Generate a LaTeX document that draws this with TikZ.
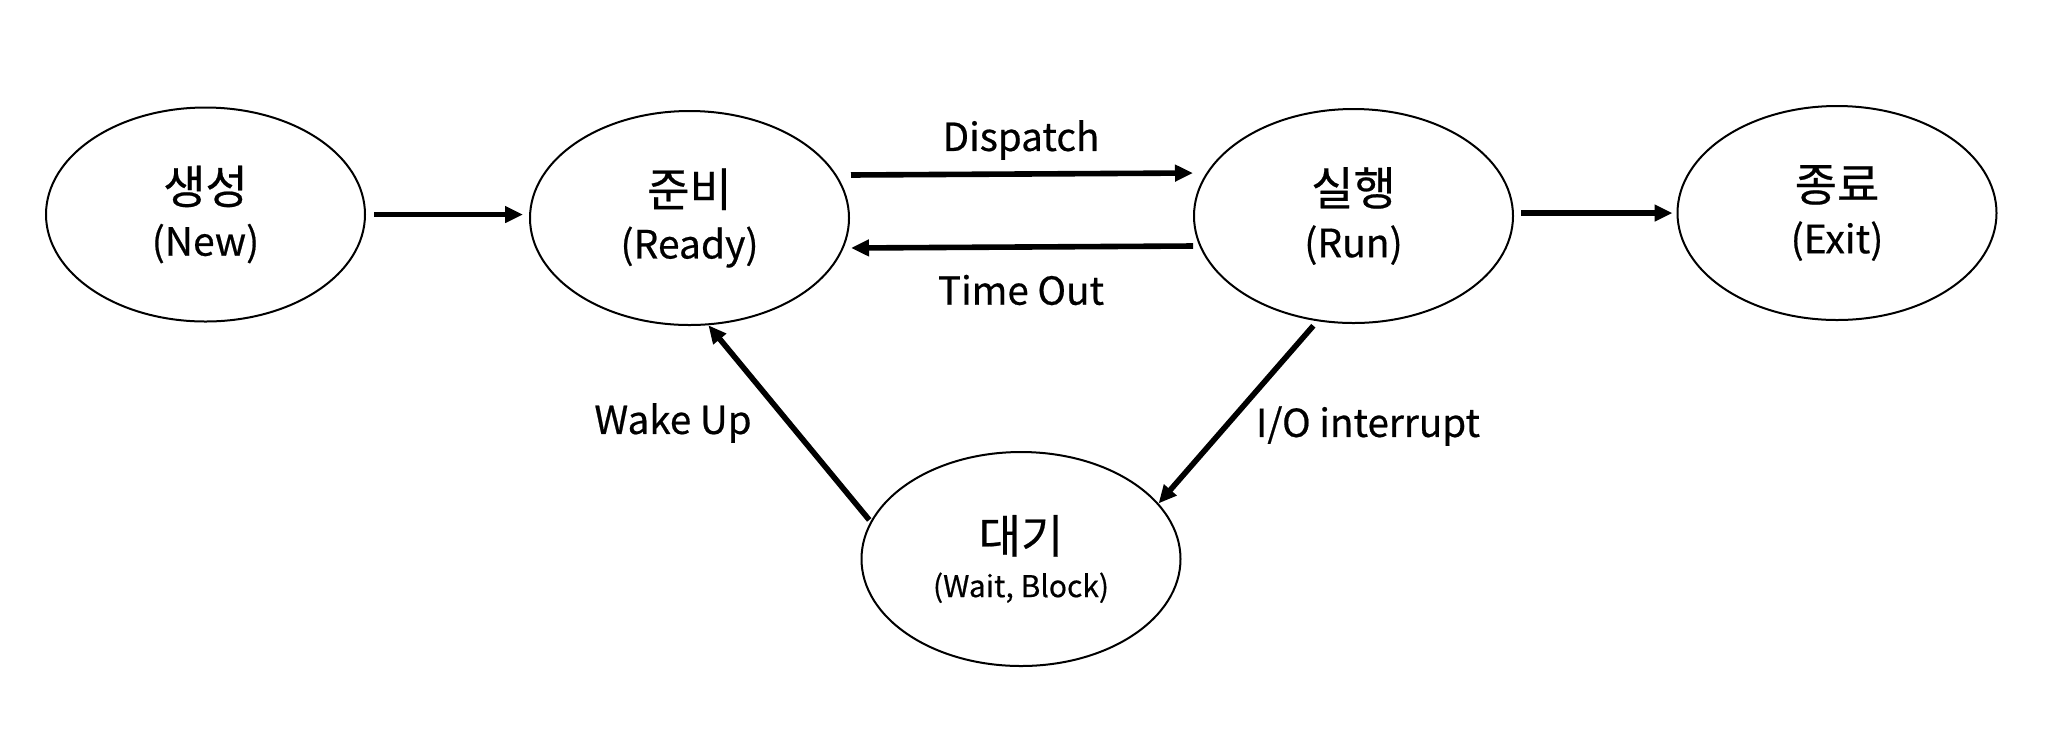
\documentclass[tikz,border=0pt]{standalone}
\usepackage{fontspec}
\setmainfont{Noto Sans CJK KR}[FakeBold=0.5]
\usetikzlibrary{shapes.geometric,arrows.meta}
\newcommand{\kor}[1]{{\fontsize{23pt}{26pt}\selectfont #1}}
\tikzset{
  state/.style={draw, line width=1pt, ellipse, minimum width=159.5pt, minimum height=107pt, inner sep=0pt, align=center, font=\fontsize{19.5pt}{26pt}\selectfont},
  conn/.style={line width=2.8pt, -{Triangle[length=9pt,width=8pt]}},
  lbl/.style={font=\fontsize{19.3pt}{22pt}\selectfont}
}
\begin{document}
\begin{tikzpicture}[x=0.5pt,y=-0.5pt]
\useasboundingbox (0,0) rectangle (2066,746);
\fill[white] (0,0) rectangle (2066,746);
\node[state] (new) at (205.5,214.5) {\kor{생성}\\(New)};
\node[state] (ready) at (689.5,218) {\kor{준비}\\(Ready)};
\node[state] (run) at (1353.5,216) {\kor{실행}\\(Run)};
\node[state] (exit) at (1837,213) {\kor{종료}\\(Exit)};
\node[state, font=\fontsize{15pt}{22pt}\selectfont] (wait) at (1021,559) {\kor{대기}\\(Wait, Block)};
\draw[conn, shorten <=4pt, shorten >=3pt] (new.east) -- (new.east -| ready.west);
\draw[conn, shorten <=0.5pt, shorten >=0pt] ([yshift=21.5pt]ready.east) -- ([yshift=21.5pt]run.west);
\draw[conn, shorten <=0pt, shorten >=0.5pt] ([yshift=-15pt]run.west) -- ([yshift=-15pt]ready.east);
\draw[conn, shorten <=3.5pt, shorten >=2pt] (exit.west -| run.east) -- (exit.west);
\draw[conn, shorten <=1pt, shorten >=0pt] (wait.166) -- (ready.-80);
\draw[conn, shorten <=3pt, shorten >=0pt] (run.251) -- (wait.22);
\node[lbl] (ldispatch) at (1021,140) {Dispatch};
\node[lbl] (ltimeout) at (1021,290) {Time Out};
\node[lbl] (lwake) at (673,423) {Wake Up};
\node[lbl] (lio) at (1368,426) {I/O interrupt};
\end{tikzpicture}
\end{document}
